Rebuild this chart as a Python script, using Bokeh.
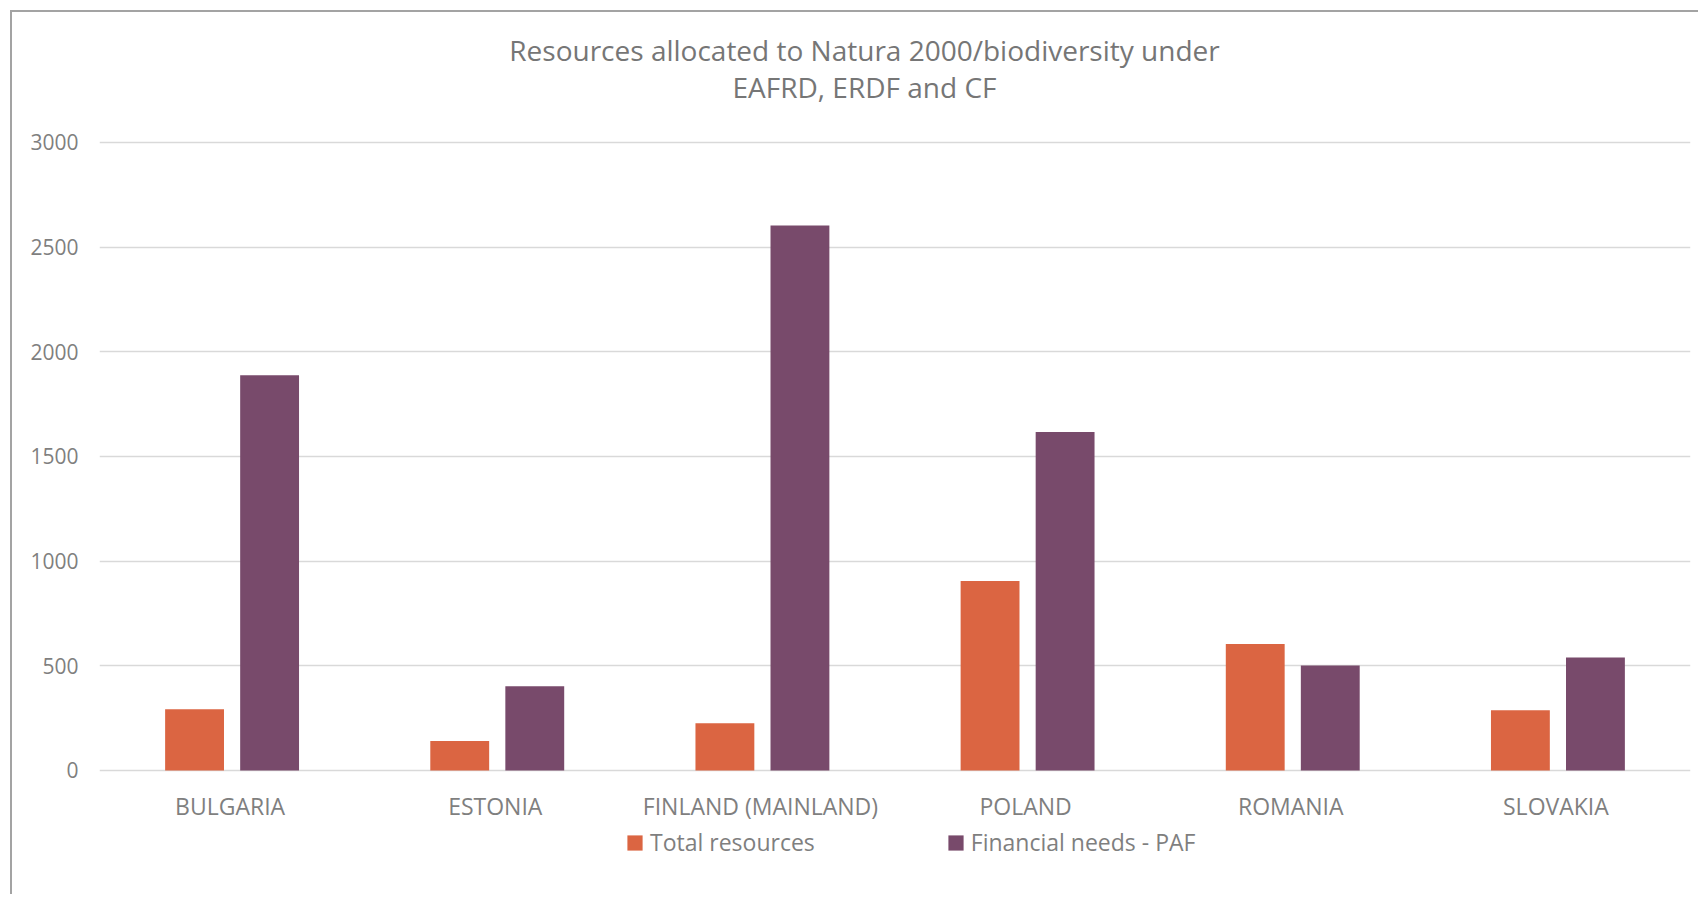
from bokeh.plotting import figure
from bokeh.models import ColumnDataSource, Range1d, FactorRange, FixedTicker, Legend, LegendItem, Label
from bokeh.core.properties import value
from bokeh.transform import dodge
from bokeh.embed import file_html
from bokeh.resources import INLINE

countries = ["BULGARIA", "ESTONIA", "FINLAND (MAINLAND)", "POLAND", "ROMANIA", "SLOVAKIA"]
total_resources = [292, 141, 225, 905, 604, 287]
financial_needs = [1887, 402, 2603, 1617, 501, 540]
series_names = ["Total resources", "Financial needs - PAF"]
y_ticks = [0, 500, 1000, 1500, 2000, 2500, 3000]
title_lines = ["Resources allocated to Natura 2000/biodiversity under", "EAFRD, ERDF and CF"]

ORANGE = "#DB6542"
PURPLE = "#784A6B"
TXT = "#7f7f7f"
FONT = "Open Sans"

src = ColumnDataSource(dict(c=countries, tot=total_resources, fin=financial_needs))

# the frame spans the whole height; the band below 0 holds the category labels and legend
p = figure(x_range=FactorRange(*countries, range_padding=0), y_range=Range1d(-602, 3620),
           width=1688, height=884, output_backend="svg", toolbar_location=None,
           x_axis_location=None,
           min_border_left=87, min_border_right=10, min_border_top=0, min_border_bottom=0)
p.styles = {"position": "absolute", "left": "10px", "top": "10px",
            "border-left": "2px solid #a3a3a3", "border-top": "2px solid #a3a3a3"}
p.outline_line_color = None
p.background_fill_color = "white"
p.border_fill_color = "white"

r1 = p.vbar(x=dodge("c", -0.1415, range=p.x_range), top="tot", width=0.222, source=src,
            fill_color=ORANGE, line_color=None)
r2 = p.vbar(x=dodge("c", 0.1415, range=p.x_range), top="fin", width=0.222, source=src,
            fill_color=PURPLE, line_color=None)

# category labels
p.text(x="c", y=-169, text="c", source=src, text_align="center", text_baseline="alphabetic",
       x_offset=-2, text_font=value(FONT), text_font_size="23px", text_color=TXT)

p.xgrid.grid_line_color = None
p.ygrid.grid_line_color = "#d9d9d9"
p.ygrid.grid_line_width = 1.5
p.yaxis.ticker = FixedTicker(ticks=y_ticks)
ax = p.yaxis[0]
ax.axis_line_color = None
ax.major_tick_line_color = None
ax.minor_tick_line_color = None
ax.major_tick_out = 0
ax.major_tick_in = 0
ax.major_label_text_color = TXT
ax.major_label_text_font = FONT
ax.major_label_text_font_size = "21px"
ax.major_label_standoff = 21

legend = Legend(items=[LegendItem(label=series_names[0], renderers=[r1]),
                       LegendItem(label=series_names[1], renderers=[r2])],
                orientation="horizontal", location=(526, 38),
                label_text_font=FONT, label_text_font_size="23px", label_text_color=TXT,
                glyph_width=19, glyph_height=19, label_standoff=6, spacing=131,
                padding=0, margin=0, border_line_color=None, background_fill_alpha=0)
p.add_layout(legend, "center")

for txt, yv in zip(title_lines, [3443, 3264]):
    p.add_layout(Label(x=2.885, y=yv, text=txt, text_align="center", text_baseline="alphabetic",
                       text_font=FONT, text_font_size="28px", text_color="#767676"))

open("out.html", "w").write(file_html(p, INLINE))
